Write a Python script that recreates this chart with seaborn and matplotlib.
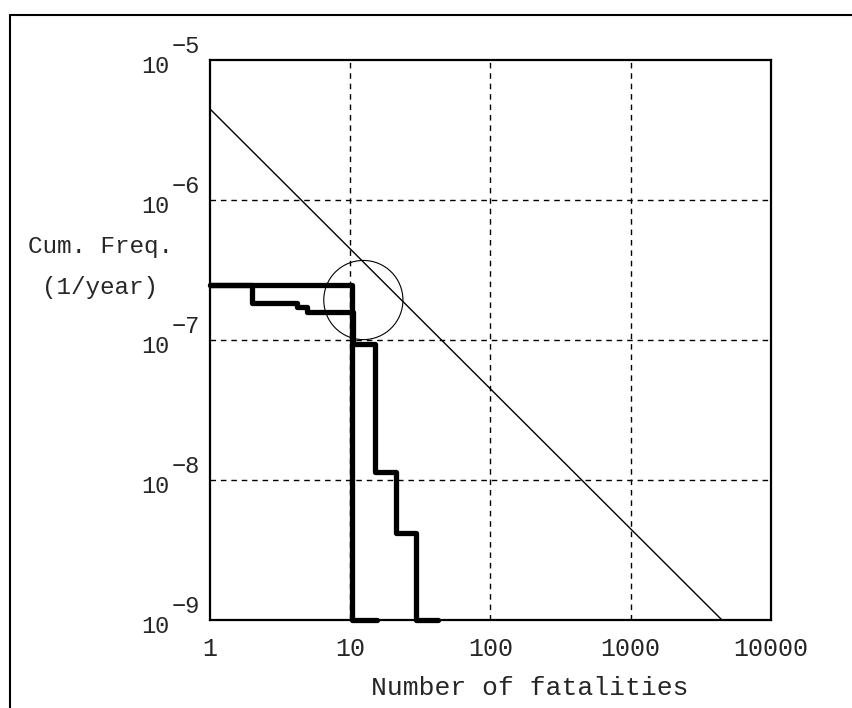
import numpy as np
import matplotlib
matplotlib.use("Agg")
import matplotlib.pyplot as plt
import matplotlib.transforms as mtransforms
from matplotlib.lines import Line2D
import seaborn as sns

# ---- data ----
# curve A: single step, cut off at N = 10
n_a = [1, 10.3, 15.6]
f_a = [2.47e-7, 1.0e-9, 1.0e-9]
# curve B: staircase
n_b = [1, 2.0, 4.2, 4.9, 10.5, 15.0, 21.3, 29.6, 42.0]
f_b = [2.47e-7, 1.84e-7, 1.72e-7, 1.58e-7, 9.3e-8, 1.14e-8, 4.18e-9, 1.0e-9, 1.0e-9]
# criterion line (slope -1)
n_crit = [1, 4470]
f_crit = [4.47e-6, 1.0e-9]
# circle marking the point of interest
n_circ = [12.4]
f_circ = [1.93e-7]

xticks = [1, 10, 100, 1000, 10000]
xticklabels = ["1", "10", "100", "1000", "10000"]
yticks = [1e-9, 1e-8, 1e-7, 1e-6, 1e-5]
yexps = ["\u22129", "\u22128", "\u22127", "\u22126", "\u22125"]

sns.set_style("white")
plt.rcParams["font.family"] = ["Liberation Mono", "DejaVu Sans Mono"]

fig = plt.figure(figsize=(8.53, 7.08), dpi=100)
ax = fig.add_axes([210 / 853, 1 - 620 / 708, 561 / 853, 560 / 708])
ax.set_xscale("log")
ax.set_yscale("log")
ax.set_xlim(1, 10000)
ax.set_ylim(1e-9, 1e-5)

# dashed grid
for x in [10, 100, 1000]:
    ax.axvline(x, color="black", lw=1.0, ls=(0, (4, 3.5)), zorder=1)
for y in [1e-8, 1e-7, 1e-6]:
    ax.axhline(y, color="black", lw=1.0, ls=(0, (4, 3.5)), zorder=1)

sns.lineplot(x=n_crit, y=f_crit, color="black", lw=1.0, ax=ax, zorder=2)
sns.lineplot(x=n_b, y=f_b, color="black", lw=3.8, drawstyle="steps-post",
             ax=ax, zorder=3, clip_on=False)
sns.lineplot(x=n_a, y=f_a, color="black", lw=3.8, drawstyle="steps-post",
             ax=ax, zorder=3, clip_on=False)
sns.scatterplot(x=n_circ, y=f_circ, s=57 ** 2, facecolor="none",
                edgecolor="black", linewidth=0.8, ax=ax, zorder=2)

for sp in ax.spines.values():
    sp.set_linewidth(1.6)
    sp.set_color("black")

ax.set_xticks(xticks)
ax.set_xticklabels(xticklabels)
ax.minorticks_off()
ax.tick_params(axis="x", length=0, pad=12, labelsize=18)
ax.set_yticks(yticks)
ax.set_yticklabels([])
ax.tick_params(axis="y", length=0)

# y tick labels as "10" with a full-size exponent
base_tr = mtransforms.blended_transform_factory(ax.transAxes, ax.transData)
for y, e in zip(yticks, yexps):
    t1 = mtransforms.offset_copy(base_tr, fig=fig, x=0, y=-4.5, units="points")
    ax.text(-40 / 561, y, "10", transform=t1, ha="right", va="center",
            fontsize=17)
    t2 = mtransforms.offset_copy(base_tr, fig=fig, x=0, y=9.5, units="points")
    ax.text(-38 / 561, y, e, transform=t2, ha="left", va="center",
            fontsize=17)

ax.set_xlabel("Number of fatalities", fontsize=19)
ax.xaxis.set_label_coords(0.57, -0.121)
ax.xaxis.label.set_va("center")
ax.set_ylabel("Cum. Freq.\n(1/year)", fontsize=17.5, rotation=0,
              ha="center", va="center", linespacing=2.0)
ax.yaxis.set_label_coords(-0.196, 0.63)

# outer frame (top and left edges)
fx = 10 / 853
fy = 1 - 15 / 708
fig.add_artist(Line2D([fx, fx], [0, fy], color="black", lw=1.5,
                      transform=fig.transFigure))
fig.add_artist(Line2D([fx, 1], [fy, fy], color="black", lw=1.5,
                      transform=fig.transFigure))

fig.savefig("out.png", dpi=100)
